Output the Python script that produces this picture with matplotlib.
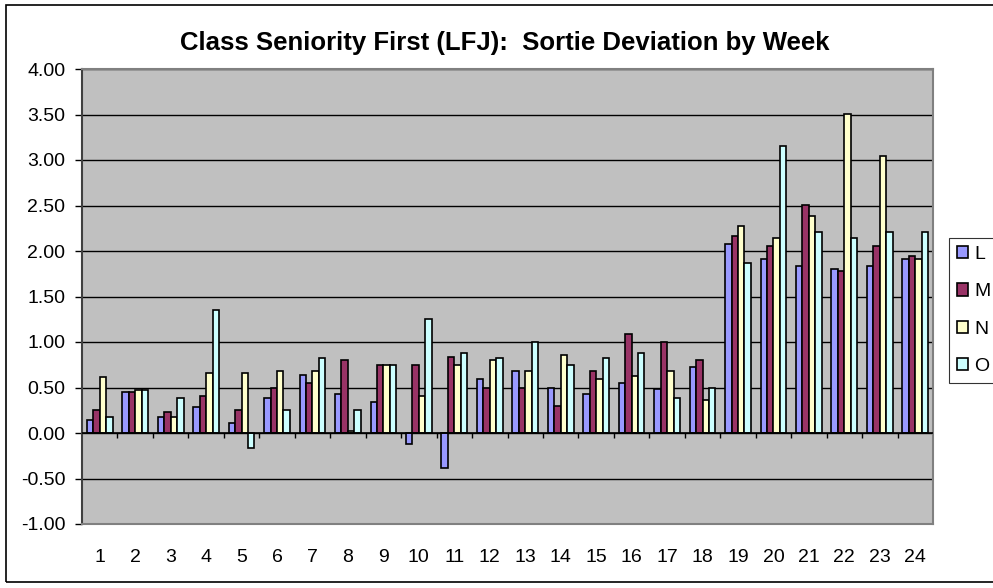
import matplotlib
matplotlib.use("Agg")
import matplotlib.pyplot as plt
import numpy as np

# Sortie deviation by week, four series
weeks = [str(w) for w in range(1, 25)]
series_names = ["L", "M", "N", "O"]
L = [0.14, 0.45, 0.18, 0.29, 0.11, 0.39, 0.64, 0.43, 0.34, -0.12, -0.39, 0.59,
     0.68, 0.50, 0.43, 0.55, 0.48, 0.73, 2.08, 1.91, 1.83, 1.80, 1.83, 1.91]
M = [0.25, 0.45, 0.23, 0.41, 0.25, 0.50, 0.55, 0.80, 0.75, 0.75, 0.84, 0.50,
     0.50, 0.30, 0.68, 1.09, 1.00, 0.80, 2.17, 2.06, 2.51, 1.78, 2.06, 1.94]
N = [0.62, 0.47, 0.18, 0.66, 0.66, 0.68, 0.68, 0.02, 0.75, 0.41, 0.75, 0.80,
     0.68, 0.86, 0.59, 0.63, 0.68, 0.36, 2.28, 2.14, 2.38, 3.51, 3.04, 1.91]
O = [0.18, 0.47, 0.39, 1.35, -0.16, 0.25, 0.82, 0.25, 0.75, 1.25, 0.88, 0.82,
     1.00, 0.75, 0.82, 0.88, 0.39, 0.50, 1.87, 3.15, 2.21, 2.14, 2.21, 2.21]
colors = ["#9999FF", "#993366", "#FFFFCC", "#CCFFFF"]

plt.rcParams["font.family"] = ["Liberation Sans", "DejaVu Sans"]

fig = plt.figure(figsize=(9.93, 5.88), dpi=100)
ax = fig.add_axes([82 / 993, 64 / 588, 851 / 993, 455 / 588])
ax.set_facecolor("#C0C0C0")

x = np.arange(len(weeks))
width = 1 / 5.5  # Excel gap width 150%
for i, (name, vals, col) in enumerate(zip(series_names, [L, M, N, O], colors)):
    ax.bar(x + (i - 1.5) * width, vals, width, color=col, edgecolor="black",
           linewidth=1.2, label=name, zorder=3)

ax.set_xlim(-0.5, len(weeks) - 0.5)
ax.set_ylim(-1, 4)
ax.set_yticks(np.arange(-1, 4.01, 0.5))
ax.set_yticklabels([f"{v:.2f}" for v in np.arange(-1, 4.01, 0.5)], fontsize=14)
ax.yaxis.grid(True, color="black", linewidth=1, zorder=1)
ax.set_axisbelow(True)
ax.tick_params(axis="y", direction="out", length=5, width=1, pad=7)

ax.set_xticks(x)
ax.set_xticklabels(weeks, fontsize=14)
ax.tick_params(axis="x", length=0, pad=18)

# zero line with category separators
ax.axhline(0, color="black", linewidth=1.2, zorder=4)
ax.vlines(x[:-1] + 0.5, -0.05, 0, color="black", linewidth=1, zorder=4)

for side in ["top", "right", "bottom"]:
    ax.spines[side].set_color("#808080")
    ax.spines[side].set_linewidth(1.5)
ax.spines["left"].set_color("#404040")
ax.spines["left"].set_linewidth(1.5)

fig.text(505 / 993, 1 - 43 / 588, "Class Seniority First (LFJ):  Sortie Deviation by Week",
         ha="center", va="center", fontsize=18.5, fontweight="bold")

leg = fig.legend(loc="upper left", bbox_to_anchor=(949 / 993, 1 - 238 / 588),
                 fontsize=14, frameon=True, fancybox=False, handlelength=0.6,
                 handleheight=0.6, handletextpad=0.3, labelspacing=1.05,
                 borderaxespad=0, borderpad=0.4)
leg.get_frame().set_edgecolor("black")
leg.get_frame().set_linewidth(0.8)

# chart area border
fig.patches.append(plt.Rectangle((6 / 993, 6 / 588), 1.1, 1 - 11 / 588,
                                 transform=fig.transFigure, fill=False,
                                 edgecolor="black", linewidth=1.2))

fig.savefig("out.png", dpi=100)
